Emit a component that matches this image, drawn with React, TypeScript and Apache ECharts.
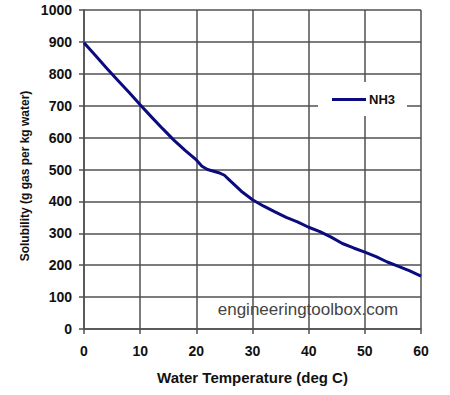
import React, { useEffect, useRef } from "react";
import * as echarts from "echarts";

const temperatures = [0, 2, 4, 6, 8, 10, 12, 14, 16, 18, 20, 21, 22, 24, 25, 26, 28, 30, 32, 34, 36, 38, 40, 42, 44, 46, 48, 50, 52, 54, 56, 58, 60];
const solubilityNH3 = [897, 858, 818, 780, 742, 703, 665, 628, 592, 560, 530, 510, 500, 490, 482, 465, 432, 405, 385, 367, 350, 336, 319, 305, 288, 268, 254, 241, 227, 210, 196, 182, 166];
const seriesName = "NH3";
const xAxisName = "Water Temperature (deg C)";
const yAxisName = "Solubility (g gas per kg water)";
const watermark = "engineeringtoolbox.com";

export default function App() {
  const ref = useRef<HTMLDivElement>(null);
  useEffect(() => {
    if (!ref.current) return;
    const chart = echarts.init(ref.current, null, { renderer: "svg" });
    const font = "Liberation Sans, Arial, sans-serif";
    const gridColor = "#505050";
    chart.setOption({
      animation: false,
      backgroundColor: "#fff",
      grid: { left: 84, right: 29, top: 10, bottom: 66 },
      xAxis: {
        type: "value",
        min: 0,
        max: 60,
        interval: 10,
        name: xAxisName,
        nameLocation: "middle",
        nameGap: 41,
        nameTextStyle: { fontFamily: font, fontWeight: "bold", fontSize: 15, color: "#111" },
        axisLine: { show: true, lineStyle: { color: gridColor, width: 1.5 } },
        axisTick: { show: true, length: 5, lineStyle: { color: gridColor, width: 1.5 } },
        axisLabel: { margin: 15, fontFamily: font, fontWeight: "bold", fontSize: 14, color: "#111", formatter: (v: number) => String(v) },
        splitLine: { show: true, lineStyle: { color: gridColor, width: 1.5 } },
      },
      yAxis: {
        type: "value",
        min: 0,
        max: 1000,
        interval: 100,
        axisLine: { show: true, lineStyle: { color: gridColor, width: 1.5 } },
        axisTick: { show: true, length: 5, lineStyle: { color: gridColor, width: 1.5 } },
        axisLabel: { margin: 12, fontFamily: font, fontWeight: "bold", fontSize: 14, color: "#111", formatter: (v: number) => String(v) },
        splitLine: { show: true, lineStyle: { color: gridColor, width: 1.5 } },
      },
      legend: {
        show: true,
        left: 318,
        top: 82,
        orient: "vertical",
        backgroundColor: "#fff",
        padding: [11, 12, 10, 14],
        icon: "rect",
        itemWidth: 34,
        itemHeight: 3,
        itemGap: 0,
        textStyle: { fontFamily: font, fontWeight: "bold", fontSize: 13, color: "#111", padding: [0, 0, 0, -2] },
        data: [seriesName],
      },
      graphic: [
        {
          type: "text",
          x: 25,
          y: 176,
          rotation: Math.PI / 2,
          style: { text: yAxisName, fontFamily: font, fontWeight: "bold", fontSize: 12, fill: "#111", align: "center", verticalAlign: "middle" },
        },
        {
          type: "group",
          left: 203,
          top: 299,
          z: 100,
          children: [
            { type: "rect", shape: { x: 0, y: 0, width: 208, height: 23 }, style: { fill: "#fff" } },
            {
              type: "text",
              x: 105,
              y: 10,
              style: { text: watermark, fontFamily: font, fontSize: 17, fill: "#444", align: "center", verticalAlign: "middle" },
            },
          ],
        },
      ],
      series: [
        {
          name: seriesName,
          type: "line",
          data: temperatures.map((t, i) => [t, solubilityNH3[i]]),
          showSymbol: false,
          symbol: "none",
          lineStyle: { color: "#0b0b80", width: 3 },
          itemStyle: { color: "#0b0b80" },
          z: 5,
        },
      ],
    });
    return () => chart.dispose();
  }, []);
  return <div ref={ref} style={{ width: 450, height: 395, position: "absolute", left: 0, top: 0 }} />;
}
